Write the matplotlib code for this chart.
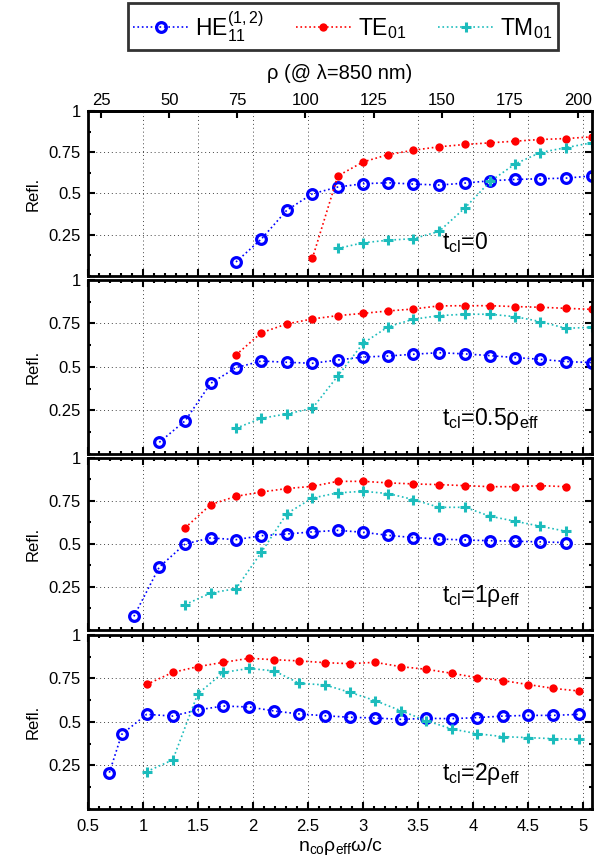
import numpy as np
import matplotlib
matplotlib.use("Agg")
import matplotlib.pyplot as plt
from matplotlib.ticker import MultipleLocator

plt.rcParams["font.family"] = ["Liberation Sans", "DejaVu Sans"]
plt.rcParams["mathtext.fontset"] = "custom"
plt.rcParams["mathtext.rm"] = "Liberation Sans"
plt.rcParams["mathtext.it"] = "Liberation Sans:italic"
plt.rcParams["mathtext.default"] = "regular"

nan = np.nan

# normalised frequency n_co*rho_eff*omega/c for each panel
x_p1 = [1.845, 2.076, 2.306, 2.539, 2.770, 3.000, 3.230, 3.457, 3.690, 3.927,
        4.155, 4.382, 4.610, 4.843, 5.079]
x_p2 = [1.148, 1.382, 1.615, 1.845, 2.076, 2.306, 2.539, 2.770, 3.000, 3.230,
        3.457, 3.690, 3.927, 4.155, 4.382, 4.610, 4.843, 5.079]
x_p3 = [0.917, 1.148, 1.382, 1.615, 1.845, 2.076, 2.306, 2.539, 2.770, 3.000,
        3.230, 3.457, 3.690, 3.927, 4.155, 4.382, 4.610, 4.843]
x_p4 = [0.694, 0.806, 1.033, 1.270, 1.497, 1.730, 1.967, 2.194, 2.421, 2.655,
        2.882, 3.109, 3.343, 3.573, 3.806, 4.033, 4.270, 4.503, 4.730, 4.964]

# t_cl = 0
he_p1 = [0.085, 0.224, 0.398, 0.498, 0.539, 0.559, 0.565, 0.557, 0.551, 0.563,
         0.577, 0.585, 0.589, 0.593, 0.606]
te_p1 = [nan, nan, nan, 0.106, 0.606, 0.691, 0.736, 0.762, 0.783, 0.797,
         0.807, 0.817, 0.827, 0.833, 0.843]
tm_p1 = [nan, nan, nan, nan, 0.167, 0.201, 0.217, 0.226, 0.270, 0.413,
         0.573, 0.679, 0.748, 0.778, 0.807]

# t_cl = 0.5 rho_eff
he_p2 = [0.067, 0.190, 0.406, 0.496, 0.534, 0.527, 0.521, 0.540, 0.557, 0.563,
         0.573, 0.582, 0.575, 0.565, 0.554, 0.544, 0.531, 0.525]
te_p2 = [nan, nan, nan, 0.569, 0.697, 0.747, 0.776, 0.795, 0.808, 0.822,
         0.833, 0.851, 0.852, 0.852, 0.847, 0.843, 0.837, 0.831]
tm_p2 = [nan, nan, nan, 0.148, 0.205, 0.230, 0.262, 0.448, 0.636, 0.732,
         0.774, 0.795, 0.803, 0.803, 0.789, 0.761, 0.722, 0.728]

# t_cl = 1 rho_eff
he_p3 = [0.079, 0.366, 0.500, 0.535, 0.525, 0.548, 0.558, 0.570, 0.579, 0.568,
         0.550, 0.537, 0.529, 0.523, 0.519, 0.516, 0.512, 0.508]
te_p3 = [nan, nan, 0.593, 0.729, 0.777, 0.802, 0.822, 0.835, 0.864, 0.864,
         0.855, 0.849, 0.845, 0.839, 0.833, 0.833, 0.839, 0.833]
tm_p3 = [nan, nan, 0.147, 0.215, 0.240, 0.452, 0.676, 0.767, 0.797, 0.806,
         0.793, 0.758, 0.713, 0.713, 0.661, 0.632, 0.603, 0.574]

# t_cl = 2 rho_eff
he_p4 = [0.209, 0.429, 0.544, 0.534, 0.569, 0.592, 0.586, 0.563, 0.546, 0.536,
         0.527, 0.523, 0.515, 0.521, 0.519, 0.525, 0.534, 0.538, 0.538, 0.544]
te_p4 = [nan, nan, 0.716, 0.785, 0.818, 0.843, 0.866, 0.858, 0.851, 0.841,
         0.835, 0.843, 0.818, 0.803, 0.780, 0.755, 0.738, 0.715, 0.693, 0.678]
tm_p4 = [nan, nan, 0.215, 0.282, 0.661, 0.785, 0.808, 0.793, 0.722, 0.713,
         0.670, 0.623, 0.565, 0.508, 0.460, 0.433, 0.416, 0.410, 0.404, 0.400]

panel_labels = ["t$_{cl}$=0", "t$_{cl}$=0.5ρ$_{eff}$",
                "t$_{cl}$=1ρ$_{eff}$", "t$_{cl}$=2ρ$_{eff}$"]
x_ticks = [0.5, 1.0, 1.5, 2.0, 2.5, 3.0, 3.5, 4.0, 4.5, 5.0]
x_ticklabels = ["0.5", "1", "1.5", "2", "2.5", "3", "3.5", "4", "4.5", "5"]
y_ticks = [0.25, 0.5, 0.75, 1.0]
y_ticklabels = ["0.25", "0.5", "0.75", "1"]
rho_ticks = [25, 50, 75, 100, 125, 150, 175, 200]

# x = n_co * 2*pi*rho / lambda, lambda = 850 nm
k_rho = 2 * np.pi * 3.35 / 850.0

panels = [
    (x_p1, he_p1, te_p1, tm_p1),
    (x_p2, he_p2, te_p2, tm_p2),
    (x_p3, he_p3, te_p3, tm_p3),
    (x_p4, he_p4, te_p4, tm_p4),
]
# [left, bottom, width, height] in figure fractions
boxes = [
    [0.1436, 0.6817, 0.822, 0.1903],
    [0.1436, 0.4764, 0.822, 0.2007],
    [0.1436, 0.2734, 0.822, 0.1984],
    [0.1436, 0.0669, 0.822, 0.2007],
]

BLUE, RED, CYAN = "#0000ff", "#ff0000", "#1cbcbc"

fig = plt.figure(figsize=(6.13, 8.67), dpi=100)
handles = None
for i, ((xv, he, te, tm), box, lab) in enumerate(zip(panels, boxes, panel_labels)):
    ax = fig.add_axes(box)
    h1, = ax.plot(xv, he, ls=":", lw=1.2, color=BLUE, marker="o",
                  ms=7, mfc="none", mec=BLUE, mew=2.3)
    h2, = ax.plot(xv, te, ls=":", lw=1.2, color=RED, marker="o",
                  ms=6, mfc=RED, mec=RED, mew=0)
    h3, = ax.plot(xv, tm, ls=":", lw=1.2, color=CYAN, marker="+",
                  ms=7, mew=2.2)
    handles = [h1, h2, h3]

    ax.set_xlim(0.5, 5.08)
    ax.set_ylim(0, 1)
    ax.set_xticks(x_ticks)
    ax.xaxis.set_minor_locator(MultipleLocator(0.1))
    ax.set_yticks(y_ticks)
    ax.set_yticklabels(y_ticklabels)
    ax.yaxis.set_minor_locator(MultipleLocator(0.125))
    ax.grid(True, which="major", ls=(0, (1, 3)), color="#444444", lw=0.7)
    ax.tick_params(which="both", direction="in", right=True, top=(i > 0),
                   labelsize=12, width=1.5)
    ax.tick_params(which="major", length=5, pad=5)
    ax.tick_params(which="minor", length=2.5)
    for s in ax.spines.values():
        s.set_linewidth(2)
    ax.set_ylabel("Refl.", fontsize=12, labelpad=6)
    ax.text(3.72, 0.2, lab, fontsize=16.5, va="center", ha="left")

    if i < 3:
        ax.tick_params(labelbottom=False)
    else:
        ax.set_xticklabels(x_ticklabels)
        ax.tick_params(axis="x", pad=7)
        ax.set_xlabel("n$_{co}$ρ$_{eff}$ω/c", fontsize=14, labelpad=2)

    if i == 0:
        sec = ax.secondary_xaxis("top", functions=(lambda x: x / k_rho,
                                                   lambda r: r * k_rho))
        sec.set_xticks(rho_ticks)
        sec.tick_params(direction="in", length=5, width=1.5, labelsize=12,
                        pad=2)
        sec.spines["top"].set_linewidth(2)
        sec.set_xlabel("ρ (@ λ=850 nm)", fontsize=14.5, labelpad=10)

leg = fig.legend(handles,
                 ["HE$_{11}^{(1,2)}$", "TE$_{01}$", "TM$_{01}$"],
                 loc="center", bbox_to_anchor=(0.5595, 0.9694), ncol=3,
                 fontsize=16.5, frameon=True, fancybox=False, borderpad=0.25,
                 handlelength=2.4, columnspacing=1.4, handletextpad=0.3)
leg.get_frame().set_edgecolor("black")
leg.get_frame().set_linewidth(2)

fig.savefig("out.png", dpi=100)
